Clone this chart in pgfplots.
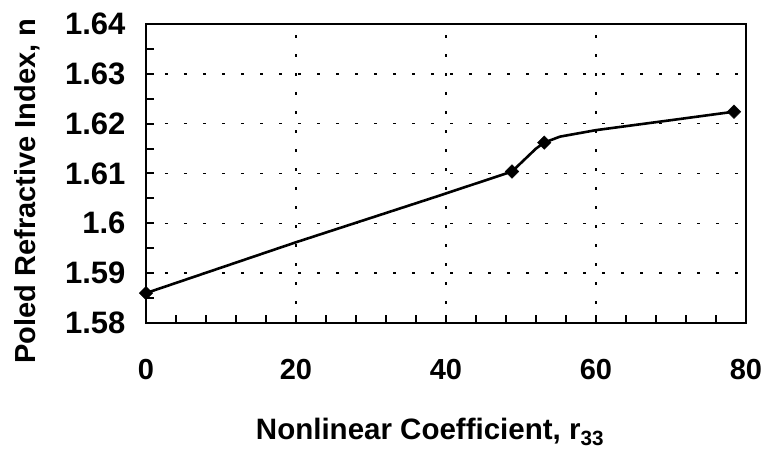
\documentclass[border=0pt]{standalone}
\usepackage{pgfplots}
\pgfplotsset{compat=1.18}
\usepackage{fontspec}
\setmainfont{Liberation Sans}
\begin{document}
\begin{tikzpicture}[x=1pt,y=1pt]
\useasboundingbox (0,0) rectangle (764,462);
\begin{axis}[
  at={(146pt,139pt)}, anchor=south west,
  scale only axis, width=600pt, height=299pt,
  xmin=0, xmax=80, ymin=1.58, ymax=1.64,
  xtick={0,20,40,60,80}, ytick={1.58,1.59,1.6,1.61,1.62,1.63,1.64},
  yticklabels={1.58,1.59,1.6,1.61,1.62,1.63,1.64},
  minor x tick num=4, minor y tick num=1,
  tick align=inside, major tick length=8pt, minor tick length=8pt,
  every tick/.style={line width=2pt, black},
  axis line style={line width=2.2pt},
  grid=major,
  major grid style={line width=1.6pt, black, dash pattern=on 3pt off 16pt},
  /pgf/number format/assume math mode=true,
  tick label style={font=\fontsize{29}{32}\selectfont\bfseries},
  xticklabel style={yshift=-33pt},
  yticklabel style={xshift=-17pt, font=\fontsize{31}{34}\selectfont\bfseries},
  xtick pos=bottom, ytick pos=left,
  clip=false,
]
\addplot[line width=2.6pt, black] coordinates {
(0,1.586) (20,1.5962) (39.2,1.6056) (48.8,1.6104) (52.0,1.6150) (53.1,1.6162) (55.2,1.6174) (60,1.6187) (70,1.6207) (78.4,1.6224)
};
\addplot[only marks, mark=square*, mark size=4.8pt, mark options={rotate=45, fill=black}] coordinates {
(0,1.586) (48.8,1.6104) (53.1,1.6162) (78.4,1.6224)
};
\end{axis}
\node[font=\fontsize{29.5}{32}\selectfont\bfseries, anchor=base, inner sep=0pt] at (430,22) {Nonlinear Coefficient, r\textsubscript{33}};
\node[font=\fontsize{29}{32}\selectfont\bfseries, anchor=center, rotate=90] at (27,271) {Poled Refractive Index, n};
\end{tikzpicture}
\end{document}
